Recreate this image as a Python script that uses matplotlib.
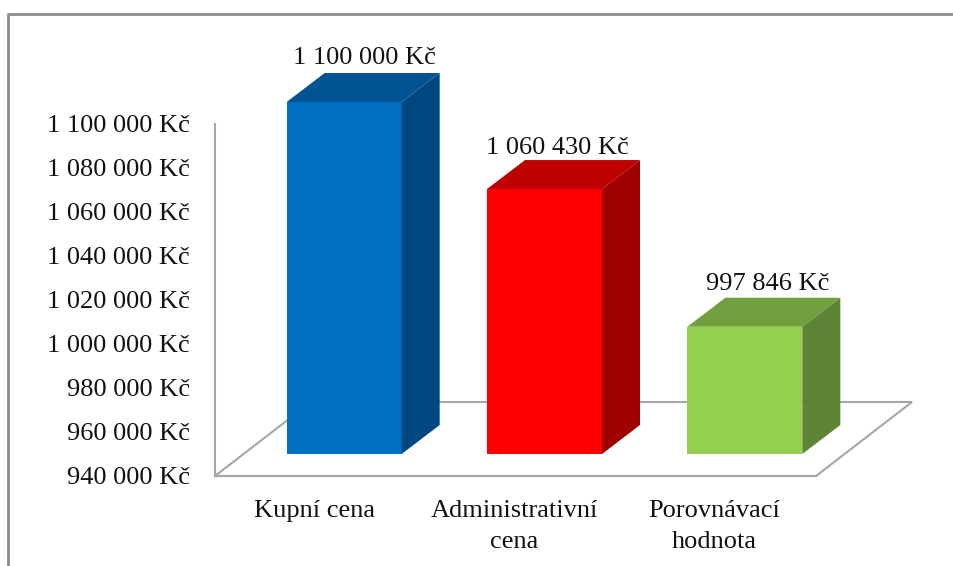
import matplotlib
matplotlib.use("Agg")
import matplotlib.pyplot as plt
from matplotlib.patches import Polygon

categories = ["Kupní cena", "Administrativní\ncena", "Porovnávací\nhodnota"]
values = [1100000, 1060430, 997846]
value_labels = ["1 100 000 Kč", "1 060 430 Kč", "997 846 Kč"]
y_ticks = [940000, 960000, 980000, 1000000, 1020000, 1040000, 1060000, 1080000, 1100000]
y_tick_labels = ["940 000 Kč", "960 000 Kč", "980 000 Kč", "1 000 000 Kč", "1 020 000 Kč",
                 "1 040 000 Kč", "1 060 000 Kč", "1 080 000 Kč", "1 100 000 Kč"]
front_colors = ["#0070C0", "#FF0000", "#92D050"]
top_colors = ["#005493", "#BF0000", "#6FA03D"]
side_colors = ["#00467F", "#A00000", "#5E8435"]

plt.rcParams["font.family"] = ["Liberation Serif", "DejaVu Serif"]
GRAY = "#A6A6A6"
TEXT = "#111111"
W, H = 954, 566

fig = plt.figure(figsize=(W / 100, H / 100), dpi=100)

# outer frame of the pasted chart, cut off on the right and at the bottom
fig.add_artist(plt.Line2D([8 / W, 8 / W, 1], [0, 1 - 14 / H, 1 - 14 / H],
                          color="#8C8C8C", lw=2))

ax = fig.add_axes([215 / W, 1 - 476 / H, 601 / W, 352 / H])
ax.set_xlim(0, 3)
ax.set_ylim(940000, 1100000)

# data units per pixel, the 3D look is just offsets in pixels
ux = 3 / 601
uy = 160000 / 352
base = y_ticks[0]

# floor
fx, fy = 96 * ux, 74 * uy
ax.add_patch(Polygon([(0, base), (3, base), (3 + fx, base + fy), (fx, base + fy)],
                     closed=True, fc="white", ec=GRAY, lw=1.5, clip_on=False, joinstyle="miter"))

# bars
bar_w = 115 * ux
shift_x, shift_y = 29 * ux, 22 * uy
dx, dy = 38 * ux, 29 * uy
label_nudge = [(1, 4), (-6, 1), (4, 3)]
for i, v in enumerate(values):
    left = i + 0.5 - bar_w / 2 + shift_x
    right = left + bar_w
    low = base + shift_y
    high = v + shift_y
    ax.bar(left, v - base, width=bar_w, bottom=low, align="edge",
           color=front_colors[i], clip_on=False, zorder=3)
    ax.add_patch(Polygon([(right, low), (right + dx, low + dy), (right + dx, high + dy), (right, high)],
                         closed=True, fc=side_colors[i], ec="none", clip_on=False, zorder=3))
    ax.add_patch(Polygon([(left, high), (right, high), (right + dx, high + dy), (left + dx, high + dy)],
                         closed=True, fc=top_colors[i], ec="none", clip_on=False, zorder=3))
    ax.annotate(value_labels[i], (i + 0.5 + shift_x + dx / 2, high + dy),
                xytext=(label_nudge[i][0] * 0.72, label_nudge[i][1] * 0.72),
                textcoords="offset points", ha="center", va="bottom", fontsize=19,
                color=TEXT, annotation_clip=False, zorder=4)

ax.set_yticks(y_ticks)
ax.set_yticklabels(y_tick_labels, fontsize=19, color=TEXT)
ax.set_xticks([0.497, 1.495, 2.49])
ax.set_xticklabels(categories, fontsize=19, color=TEXT, linespacing=1.58)
ax.tick_params(axis="y", length=0, pad=18)
ax.tick_params(axis="x", length=0, pad=17)
for s in ["top", "right"]:
    ax.spines[s].set_visible(False)
for s in ["left", "bottom"]:
    ax.spines[s].set_color(GRAY)
    ax.spines[s].set_linewidth(1.5)

fig.savefig("out.png", dpi=100, facecolor="white")
